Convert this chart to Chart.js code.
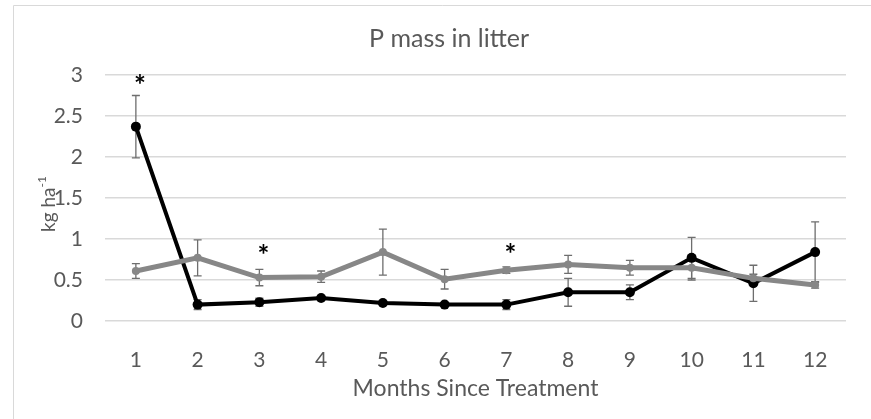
<!DOCTYPE html>
<html>
<head>
<meta charset="utf-8">
<script src="https://cdn.jsdelivr.net/npm/chart.js@4"></script>
<style>
  html, body { margin: 0; padding: 0; background: #fff; }
  #wrap { width: 871px; height: 419px; }
</style>
</head>
<body>
<div id="wrap"><canvas id="chart" width="871" height="419"></canvas></div>
<script>
var months = ['1', '2', '3', '4', '5', '6', '7', '8', '9', '10', '11', '12'];

// black series
var blackValues = [2.37, 0.20, 0.23, 0.28, 0.22, 0.20, 0.20, 0.35, 0.35, 0.77, 0.46, 0.84];
var blackErrors = [0.38, 0.06, 0.05, 0.02, 0.02, 0.02, 0.06, 0.17, 0.09, 0.25, 0.22, 0.37];

// gray series
var grayValues = [0.61, 0.77, 0.53, 0.54, 0.84, 0.51, 0.62, 0.69, 0.65, 0.65, 0.52, 0.44];
var grayErrors = [0.09, 0.22, 0.10, 0.07, 0.28, 0.12, 0.04, 0.11, 0.09, 0.15, 0.05, 0.04];

// significance markers: month index and value height
var starMonths = [0, 2, 6];
var starValues = [2.95, 0.88, 0.89];

var yTicks = [0, 0.5, 1, 1.5, 2, 2.5, 3];

var textColor = '#595959';
var fontFamily = 'Lato, "Open Sans", sans-serif';

var errorBars = {
    id: 'errorBars',
    beforeDatasetsDraw: function (chart) {
        var ctx = chart.ctx;
        var yScale = chart.scales.y;
        var errs = [grayErrors, blackErrors];
        ctx.save();
        ctx.strokeStyle = '#6e6e6e';
        ctx.lineWidth = 1.3;
        chart.data.datasets.forEach(function (ds, i) {
            var meta = chart.getDatasetMeta(i);
            meta.data.forEach(function (pt, j) {
                var top = yScale.getPixelForValue(ds.data[j] + errs[i][j]);
                var bot = yScale.getPixelForValue(ds.data[j] - errs[i][j]);
                ctx.beginPath();
                ctx.moveTo(pt.x, top);
                ctx.lineTo(pt.x, bot);
                ctx.moveTo(pt.x - 4, top);
                ctx.lineTo(pt.x + 4, top);
                ctx.moveTo(pt.x - 4, bot);
                ctx.lineTo(pt.x + 4, bot);
                ctx.stroke();
            });
        });
        ctx.restore();
    }
};

var extras = {
    id: 'extras',
    beforeDraw: function (chart) {
        var ctx = chart.ctx;
        ctx.save();
        ctx.strokeStyle = '#d9d9d9';
        ctx.lineWidth = 1;
        ctx.beginPath();
        ctx.moveTo(13.5, 419);
        ctx.lineTo(13.5, 5.5);
        ctx.lineTo(871, 5.5);
        ctx.stroke();
        ctx.restore();
    },
    afterDraw: function (chart) {
        var ctx = chart.ctx;
        var xScale = chart.scales.x;
        var yScale = chart.scales.y;
        ctx.save();
        // asterisks, centred on their value
        ctx.fillStyle = '#000';
        ctx.font = 'bold 28px ' + fontFamily;
        ctx.textAlign = 'center';
        ctx.textBaseline = 'alphabetic';
        var m = ctx.measureText('*');
        var shift = (m.actualBoundingBoxDescent - m.actualBoundingBoxAscent) / 2;
        starMonths.forEach(function (mi, k) {
            ctx.fillText('*', xScale.getPixelForValue(mi) + 4, yScale.getPixelForValue(starValues[k]) - shift);
        });
        // y axis title with superscript
        ctx.translate(49, 204);
        ctx.rotate(-Math.PI / 2);
        ctx.fillStyle = textColor;
        ctx.textAlign = 'left';
        var main = 'kg ha';
        ctx.font = '12px ' + fontFamily;
        var supW = ctx.measureText('-1').width;
        ctx.font = '19px ' + fontFamily;
        var mainW = ctx.measureText(main).width;
        var startX = -(mainW + supW) / 2;
        ctx.fillText(main, startX, 6);
        ctx.font = '12px ' + fontFamily;
        ctx.fillText('-1', startX + mainW, -3);
        ctx.restore();
    }
};

new Chart(document.getElementById('chart'), {
    type: 'line',
    data: {
        labels: months,
        datasets: [
            {
                label: 'Gray',
                data: grayValues,
                borderColor: '#878787',
                backgroundColor: '#878787',
                borderWidth: 5,
                pointRadius: 4,
                pointBorderWidth: 0,
                tension: 0
            },
            {
                label: 'Black',
                data: blackValues,
                borderColor: '#000000',
                backgroundColor: '#000000',
                borderWidth: 4,
                pointRadius: 5,
                pointBorderWidth: 0,
                tension: 0
            }
        ]
    },
    options: {
        responsive: false,
        animation: false,
        layout: { padding: { left: 52, right: 25, top: 0, bottom: 0 } },
        plugins: {
            legend: { display: false },
            tooltip: { enabled: false },
            title: {
                display: true,
                text: 'P mass in litter',
                color: textColor,
                font: { family: fontFamily, size: 25, weight: 'normal' },
                padding: { top: 24, bottom: 21 }
            }
        },
        scales: {
            x: {
                offset: true,
                grid: { display: false },
                border: { display: false },
                ticks: {
                    color: textColor,
                    font: { family: fontFamily, size: 21 },
                    padding: 19
                },
                title: {
                    display: true,
                    text: 'Months Since Treatment',
                    color: textColor,
                    font: { family: fontFamily, size: 23 },
                    padding: { top: 4, bottom: 17 }
                },
                afterFit: function (scale) { scale.height = 98; }
            },
            y: {
                min: 0,
                max: 3,
                afterBuildTicks: function (scale) {
                    scale.ticks = yTicks.map(function (v) { return { value: v }; });
                },
                grid: { color: '#d9d9d9', lineWidth: 1.5, drawTicks: false },
                border: { display: false },
                ticks: {
                    color: textColor,
                    font: { family: fontFamily, size: 21 },
                    padding: 22,
                    callback: function (value) { return String(value); }
                },
                afterFit: function (scale) { scale.width = 53; }
            }
        }
    },
    plugins: [errorBars, extras]
});
</script>
</body>
</html>
